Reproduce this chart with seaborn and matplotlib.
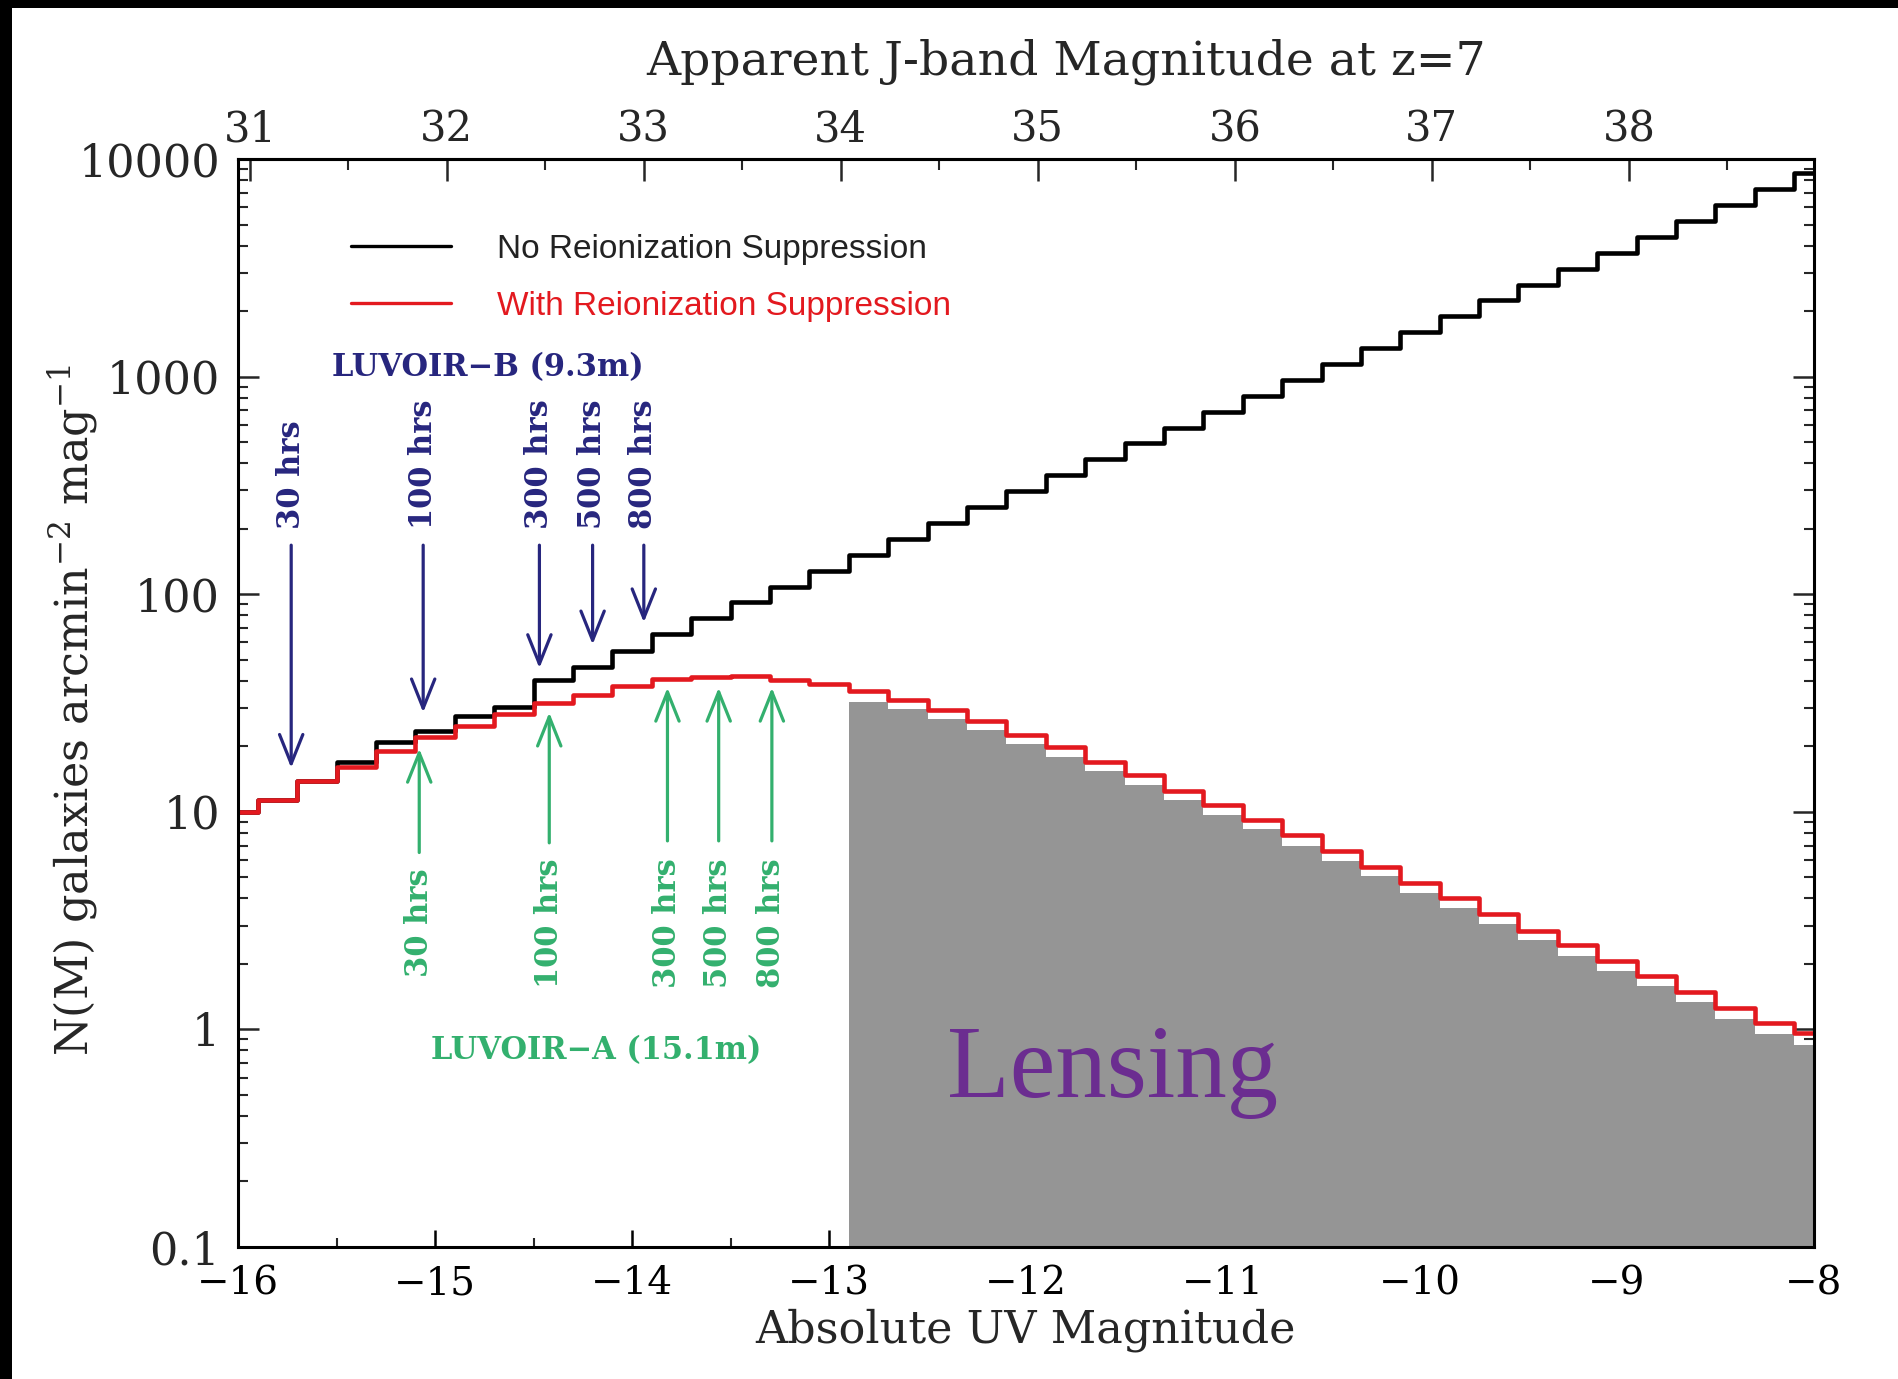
import numpy as np
import pandas as pd
import matplotlib
matplotlib.use("Agg")
import matplotlib.pyplot as plt
import seaborn as sns
from matplotlib.patches import Rectangle
from matplotlib.lines import Line2D
from matplotlib.ticker import FixedLocator, FixedFormatter, MultipleLocator, LogLocator, NullFormatter

# ---- luminosity function at z=7, bins of 0.2 mag ----
abs_mag = [-16.0, -15.8, -15.6, -15.4, -15.2, -15.0, -14.8, -14.6, -14.4, -14.2,
           -14.0, -13.8, -13.6, -13.4, -13.2, -13.0, -12.8, -12.6, -12.4, -12.2,
           -12.0, -11.8, -11.6, -11.4, -11.2, -11.0, -10.8, -10.6, -10.4, -10.2,
           -10.0, -9.8, -9.6, -9.4, -9.2, -9.0, -8.8, -8.6, -8.4, -8.2, -8.0]

n_no_suppression = [10.0, 11.3, 13.8, 17.0, 21.0, 23.4, 27.5, 30.4, 40.5, 46.5,
                    55.0, 65.5, 78.0, 92.0, 108, 128, 152, 180, 213, 252,
                    298, 352, 417, 493, 583, 690, 817, 966, 1140, 1350,
                    1600, 1890, 2240, 2650, 3130, 3710, 4390, 5190, 6140, 7260, 8600]

n_with_suppression = [10.0, 11.3, 13.8, 16.0, 19.1, 22.0, 24.9, 28.1, 31.7, 34.4,
                      38.0, 40.7, 41.8, 42.1, 40.5, 38.8, 35.8, 32.6, 29.3, 26.1,
                      22.6, 19.8, 17.0, 14.7, 12.5, 10.7, 9.2, 7.8, 6.6, 5.6,
                      4.7, 4.0, 3.38, 2.84, 2.43, 2.07, 1.76, 1.48, 1.25, 1.07, 0.96]

lens_mag = [-12.8, -12.6, -12.4, -12.2, -12.0, -11.8, -11.6, -11.4, -11.2, -11.0,
            -10.8, -10.6, -10.4, -10.2, -10.0, -9.8, -9.6, -9.4, -9.2, -9.0,
            -8.8, -8.6, -8.4, -8.2, -8.0]
n_lensing = [32.1, 29.6, 26.8, 23.8, 20.4, 17.9, 15.4, 13.3, 11.3, 9.7,
             8.3, 7.0, 5.95, 5.05, 4.25, 3.6, 3.05, 2.57, 2.18, 1.86,
             1.58, 1.33, 1.12, 0.95, 0.85]
bin_width = 0.2

series_names = ["No Reionization Suppression", "With Reionization Suppression"]

# ---- axes ticks ----
x_ticks = [-16, -15, -14, -13, -12, -11, -10, -9, -8]
x_tick_labels = ["\u221216", "\u221215", "\u221214", "\u221213", "\u221212",
                 "\u221211", "\u221210", "\u22129", "\u22128"]
y_ticks = [0.1, 1, 10, 100, 1000, 10000]
y_tick_labels = ["0.1", "1", "10", "100", "1000", "10000"]
app_ticks = [31, 32, 33, 34, 35, 36, 37, 38]
app_offset = 46.94  # absolute UV -> apparent J at z=7

# ---- exposure-time limits ----
hours = ["30 hrs", "100 hrs", "300 hrs", "500 hrs", "800 hrs"]
luvoir_b_mag = [-15.73, -15.06, -14.47, -14.20, -13.94]
luvoir_b_tip = [15.9, 28.6, 45.7, 58.7, 74.2]
luvoir_b_tail = 168
luvoir_b_text_y = 200
luvoir_a_mag = [-15.08, -14.42, -13.82, -13.56, -13.29]
luvoir_a_tip = [19.5, 28.6, 37.2, 37.2, 37.2]
luvoir_a_tail = [6.5, 7.2, 7.35, 7.35, 7.35]
luvoir_a_text_y = 3.08

c_black = "#000000"
c_red = "#e3191f"
c_blue = "#27267e"
c_green = "#33b06e"
c_gray = "#959595"
c_purple = "#6b2d90"

sns.set_style("ticks")
plt.rcParams["font.family"] = ["DejaVu Serif"]
plt.rcParams["mathtext.fontset"] = "dejavuserif"

W, H = 1899, 1379
fig = plt.figure(figsize=(W / 100, H / 100), dpi=100, facecolor="white")
ax = fig.add_axes([238 / W, 1 - 1247 / H, (1814 - 238) / W, (1247 - 159) / H])
ax.set_facecolor("white")
ax.set_yscale("log")

# lensing region (filled steps from bin edges)
lens_edges = [m - bin_width / 2 for m in lens_mag] + [lens_mag[-1] + bin_width / 2]
ax.fill_between(lens_edges, n_lensing + [n_lensing[-1]], 1e-3, step="post",
                color=c_gray, lw=0, zorder=1)

df = pd.DataFrame({
    "M": abs_mag + abs_mag,
    "N": n_no_suppression + n_with_suppression,
    "model": [series_names[0]] * len(abs_mag) + [series_names[1]] * len(abs_mag),
})
sns.lineplot(data=df, x="M", y="N", hue="model", hue_order=series_names,
             palette={series_names[0]: c_black, series_names[1]: c_red},
             estimator=None, sort=False, drawstyle="steps-mid", lw=3.3,
             legend=False, ax=ax, zorder=3)

ax.set_xlim(-16, -8)
ax.set_ylim(0.1, 10000)

ax.xaxis.set_major_locator(FixedLocator(x_ticks))
ax.xaxis.set_major_formatter(FixedFormatter(x_tick_labels))
ax.xaxis.set_minor_locator(MultipleLocator(0.5))
ax.yaxis.set_major_locator(FixedLocator(y_ticks))
ax.yaxis.set_major_formatter(FixedFormatter(y_tick_labels))
ax.yaxis.set_minor_locator(LogLocator(base=10, subs=np.arange(2, 10)))
ax.yaxis.set_minor_formatter(NullFormatter())

for s in ax.spines.values():
    s.set_linewidth(2.2)
    s.set_color("black")
    s.set_zorder(5)

ax.tick_params(axis="x", which="major", direction="in", length=12, width=1.8,
               labelsize=28, pad=13, top=False, bottom=True, colors="black")
ax.tick_params(axis="x", which="minor", direction="in", length=6.5, width=1.5,
               top=False, bottom=True)
ax.tick_params(axis="y", which="major", direction="in", length=15, width=1.8,
               labelsize=32, pad=13, left=True, right=True)
ax.tick_params(axis="y", which="minor", direction="in", length=7.5, width=1.5,
               left=True, right=True)

secax = ax.secondary_xaxis("top", functions=(lambda m: m + app_offset,
                                             lambda m: m - app_offset))
secax.xaxis.set_major_locator(FixedLocator(app_ticks))
secax.xaxis.set_minor_locator(MultipleLocator(0.5))
secax.tick_params(axis="x", which="major", direction="in", length=16, width=1.8,
                  labelsize=30, pad=6)
secax.tick_params(axis="x", which="minor", direction="in", length=8, width=1.5)
secax.spines["top"].set_linewidth(2.2)
secax.set_xlabel("Apparent J-band Magnitude at z=7", fontsize=34)
secax.xaxis.set_label_coords((1066 - 238) / 1576, (1247 - 62) / 1088,
                             transform=ax.transAxes)
secax.xaxis.label.set_va("center")

ax.set_xlabel("Absolute UV Magnitude", fontsize=32)
ax.xaxis.set_label_coords(0.5, (1247 - 1330) / 1088)
ax.xaxis.label.set_va("center")
ax.set_ylabel(r"N(M) galaxies arcmin$^{-2}$ mag$^{-1}$", fontsize=32)
ax.yaxis.set_label_coords((73 - 238) / 1576, (1247 - 710) / 1088)
ax.yaxis.label.set_va("center")

# legend
handles = [Line2D([], [], color=c_black, lw=2.4), Line2D([], [], color=c_red, lw=2.4)]
ax.legend(handles, series_names, loc="upper left",
          bbox_to_anchor=(351 / W, 1 - 234 / H), bbox_transform=fig.transFigure,
          frameon=False, prop={"family": "Liberation Sans", "size": 24},
          handlelength=3.0, handletextpad=1.38, labelspacing=0.78,
          borderpad=0, borderaxespad=0, labelcolor=["#222222", c_red])

arrow_kw = dict(arrowstyle="->,head_length=0.7,head_width=0.28", lw=2.3,
                mutation_scale=30, shrinkA=0, shrinkB=0)

# LUVOIR-B limits (arrows down)
for lab, m, tip in zip(hours, luvoir_b_mag, luvoir_b_tip):
    ax.annotate("", xy=(m, tip), xytext=(m, luvoir_b_tail),
                arrowprops=dict(color=c_blue, **arrow_kw), zorder=4)
    ax.text(m, luvoir_b_text_y, lab, rotation=90, ha="center", va="bottom",
            color=c_blue, fontsize=22, fontweight="bold", zorder=4)
ax.text(-14.73, 1100, "LUVOIR\u2212B (9.3m)", ha="center", va="center",
        color=c_blue, fontsize=22, fontweight="bold", zorder=4)

# LUVOIR-A limits (arrows up)
for lab, m, tip, tail in zip(hours, luvoir_a_mag, luvoir_a_tip, luvoir_a_tail):
    ax.annotate("", xy=(m, tip), xytext=(m, tail),
                arrowprops=dict(color=c_green, **arrow_kw), zorder=4)
    ax.text(m, luvoir_a_text_y, lab, rotation=90, ha="center", va="center",
            color=c_green, fontsize=22, fontweight="bold", zorder=4)
ax.text(-14.18, 0.796, "LUVOIR\u2212A (15.1m)", ha="center", va="center",
        color=c_green, fontsize=22, fontweight="bold", zorder=4)

ax.text(-12.40, 0.49, "Lensing", ha="left", va="baseline", color=c_purple,
        fontsize=74, family="Liberation Serif", zorder=4)

# dark frame edges
fig.add_artist(Rectangle((0, 1 - 8 / H), 1, 8 / H, transform=fig.transFigure,
                         facecolor="black", edgecolor="none", zorder=20))
fig.add_artist(Rectangle((0, 0), 12 / W, 1, transform=fig.transFigure,
                         facecolor="black", edgecolor="none", zorder=20))

fig.savefig("out.png", dpi=100, facecolor="white")
